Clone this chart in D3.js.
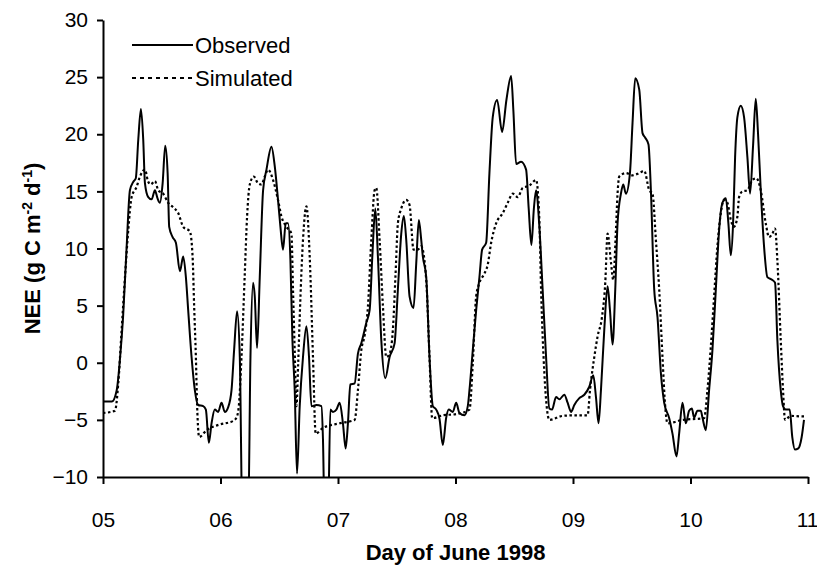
<!DOCTYPE html>
<html>
<head>
<meta charset="utf-8">
<script src="https://cdn.jsdelivr.net/npm/d3@7"></script>
<style>
  body { margin: 0; background: #fff; }
  .axis text { font-family: "Liberation Sans", Arial, sans-serif; font-size: 21px; fill: #000; }
  .axis path, .axis line { stroke: #000; stroke-width: 2; }
  .title { font-family: "Liberation Sans", Arial, sans-serif; font-weight: bold; font-size: 22px; }
  .legend text { font-family: "Liberation Sans", Arial, sans-serif; font-size: 22px; }
</style>
</head>
<body>
<div id="chart"></div>
<script>
// hours since 05 June 00:00
var obsHour = [0.0, 1.8, 2.8, 3.5, 4.1, 4.8, 5.5, 6.2, 6.7, 7.2, 7.75, 8.22, 8.57, 9.24, 9.93, 10.61, 11.12, 11.63, 12.18, 12.71,
  13.2, 13.52, 14.22, 14.89, 15.71, 16.38, 16.93, 17.4, 18.09, 18.76, 19.44, 20.46, 21.01, 21.62, 22.17, 22.84, 23.52, 24.21, 24.88, 25.56,
  26.25, 26.78, 27.39, 27.94, 28.49, 29.64, 30.12, 30.66, 31.0, 31.47, 32.02, 32.7, 33.39, 34.41, 35.08, 35.75, 36.24, 36.77, 37.32, 37.79,
  38.28, 38.69, 39.16, 39.63, 40.18, 40.85, 41.55, 42.08, 42.57, 43.59, 44.61, 44.93, 45.28, 45.95, 46.44, 46.97, 47.67, 48.34, 49.01, 49.56,
  50.03, 50.52, 51.4, 52.07, 52.76, 53.78, 54.46, 55.01, 55.62, 56.15, 56.84, 57.66, 58.54, 59.56, 60.23, 60.92, 61.45, 61.94, 62.62, 63.43,
  63.98, 64.51, 65.0, 65.33, 66.02, 66.69, 67.37, 68.06, 68.73, 69.41, 70.1, 70.63, 71.45, 72.14, 72.81, 73.83, 74.51, 74.85, 75.53, 76.22,
  76.89, 77.44, 78.26, 78.93, 79.61, 80.5, 81.52, 82.4, 83.36, 83.83, 84.38, 85.4, 86.42, 86.95, 87.5, 88.01, 88.46, 89.13, 89.8, 90.5,
  91.17, 91.72, 92.54, 93.21, 94.23, 94.9, 95.6, 96.27, 97.29, 98.31, 99.33, 100.14, 100.69, 101.22, 101.71, 102.39, 103.06, 103.55, 104.08, 104.63,
  105.1, 105.79, 106.26, 106.81, 107.63, 108.16, 108.71, 109.53, 110.2, 110.75, 111.42, 111.91, 112.59, 113.26, 113.95, 114.63, 115.65, 116.32, 117.14, 117.68,
  118.36, 119.05, 119.72, 120.27, 120.74, 121.42, 122.11, 122.44, 123.13, 123.8, 124.48, 125.17, 125.84, 126.52, 127.21, 127.74, 128.23, 128.7, 129.11, 129.58,
  130.27, 130.94, 131.62, 132.17, 132.78, 133.33, 133.8, 134.35, 135.02, 135.7, 136.72, 137.27, 137.74, 138.43, 138.9, 139.45, 140.26, 140.79, 141.34, 142.02,
  142.71, 143.18];
var obsNEE = [-3.4, -3.4, -2.4, 0.5, 4.0, 9.9, 15.1, 15.85, 16.15, 19.5, 22.2, 19.5, 15.7, 14.5, 14.3, 15.1, 14.4, 14.0, 15.7, 19.0,
  16.6, 11.9, 11.0, 10.5, 8.0, 9.3, 7.5, 4.6, 0.5, -2.4, -3.7, -3.8, -4.1, -7.0, -5.3, -4.1, -4.3, -3.5, -4.3, -3.9,
  -2.4, 1.1, 4.5, 0.5, -14, -14, 0.5, 7.0, 5.8, 1.3, 7.5, 15.1, 16.9, 18.9, 17.2, 14.25, 11.9, 9.9, 12.2, 12.2,
  9.0, 2.0, -2.4, -9.7, -3.8, 0.5, 3.2, 0.5, -3.8, -3.7, -3.8, -6.7, -14, -14, -4.1, -4.3, -4.1, -3.5, -5.3, -7.5,
  -5.3, -1.9, -1.8, 0.8, 1.7, 3.5, 4.6, 9.3, 13.5, 9.3, 2.0, -1.35, 0.5, 1.7, 6.4, 11.3, 12.85, 10.75, 5.8, 4.8,
  8.7, 12.5, 10.75, 9.3, 7.5, 0.5, -3.8, -4.1, -4.9, -7.2, -4.8, -4.1, -4.3, -3.5, -4.4, -4.6, -3.8, -2.4, 1.1, 4.6,
  7.5, 9.9, 10.5, 16.6, 21.5, 23.0, 20.2, 23.0, 25.1, 22.0, 17.4, 17.6, 16.9, 13.5, 10.3, 13.5, 15.1, 11.9, 6.4, 0.5,
  -4.0, -4.1, -3.0, -3.2, -2.8, -3.5, -4.3, -3.7, -3.1, -2.8, -2.1, -1.1, -3.0, -5.3, -2.4, 2.9, 6.7, 4.6, 1.6, 6.4,
  12.2, 14.8, 15.6, 14.8, 16.6, 21.0, 24.9, 23.9, 20.1, 19.7, 19.1, 15.1, 6.4, 4.0, -0.9, -3.5, -4.85, -6.2, -8.2, -6.2,
  -3.5, -5.3, -4.2, -4.0, -4.8, -4.2, -4.2, -4.8, -5.9, -2.4, 1.1, 6.4, 11.6, 14.0, 14.4, 12.2, 9.4, 12.2, 18.0, 21.5,
  22.5, 21.5, 18.0, 14.8, 19.0, 23.1, 20.0, 15.1, 10.2, 7.5, 7.25, 7.0, 2.0, -2.4, -3.8, -4.1, -4.1, -6.5, -7.6, -7.5,
  -6.5, -5.0];

var simHour = [0.0, 2.45, 3.12, 3.81, 4.49, 5.16, 5.85, 6.87, 7.55, 8.57, 9.18, 9.73, 10.61, 11.28, 12.3, 13.32, 14.34, 15.36, 16.38, 17.74,
  18.3, 18.62, 18.97, 19.23, 19.64, 21.15, 23.86, 26.58, 27.27, 27.74, 28.29, 28.96, 29.43, 29.98, 30.8, 31.67, 32.37, 33.04, 33.72, 34.73,
  35.75, 36.45, 37.47, 38.49, 38.81, 39.16, 39.51, 39.87, 40.18, 40.85, 41.55, 42.22, 42.89, 43.44, 44.93, 48.34, 51.4, 52.07, 52.76, 53.44,
  54.11, 54.8, 55.48, 55.82, 56.5, 57.17, 57.86, 58.54, 59.21, 59.76, 60.23, 60.92, 61.94, 62.62, 63.43, 64.31, 65.0, 66.02, 66.69, 67.24,
  69.41, 72.14, 74.85, 75.53, 76.22, 76.89, 77.91, 78.59, 79.28, 80.3, 81.65, 82.67, 83.69, 84.71, 85.73, 87.09, 88.46, 89.13, 89.48, 90.15,
  90.62, 91.17, 93.88, 96.27, 98.98, 99.47, 100.35, 101.02, 101.92, 102.59, 103.06, 103.75, 104.22, 104.77, 105.1, 105.45, 106.81, 108.16, 109.53, 110.55,
  111.57, 112.24, 112.93, 113.61, 114.28, 114.83, 115.3, 118.36, 122.78, 123.46, 124.15, 124.82, 125.5, 126.19, 126.86, 127.54, 128.23, 128.9, 129.58, 129.92,
  130.6, 131.62, 132.64, 133.45, 134.35, 135.37, 136.04, 136.72, 137.27, 137.74, 138.43, 138.9, 139.31, 140.47, 142.83, 143.39];
var simNEE = [-4.4, -4.2, -1.8, 2.9, 7.5, 11.6, 14.5, 15.4, 16.3, 16.9, 15.9, 15.6, 15.9, 15.1, 14.8, 14.0, 13.6, 13.1, 11.9, 11.5,
  9.3, 4.9, 0.5, -3.8, -6.5, -5.9, -5.4, -5.1, -4.8, -3.8, 0.5, 7.8, 12.8, 15.6, 16.3, 15.7, 15.6, 16.3, 16.9, 16.0,
  14.25, 12.8, 11.9, 11.3, 6.4, 1.0, -3.8, 0.0, 4.0, 10.75, 13.7, 9.3, 0.5, -6.2, -5.7, -5.3, -5.0, -2.4, 1.1, 2.4,
  4.9, 10.75, 15.1, 15.3, 10.75, 5.0, 0.5, 0.8, 2.9, 7.8, 12.2, 13.5, 14.25, 13.8, 9.9, 9.9, 10.2, 7.25, 0.5, -4.85,
  -4.6, -4.5, -4.1, -0.05, 5.8, 7.0, 7.8, 8.6, 10.5, 12.2, 13.1, 14.0, 14.8, 14.5, 15.3, 15.5, 16.0, 12.5, 6.4, -0.9,
  -3.8, -5.0, -4.65, -4.6, -4.6, -2.4, 0.5, 2.3, 4.0, 7.0, 11.3, 8.8, 7.25, 11.6, 14.8, 16.3, 16.6, 16.4, 16.6, 16.8,
  15.1, 14.8, 10.75, 6.4, 0.5, -3.8, -5.3, -5.0, -4.85, -2.4, 1.4, 5.8, 10.2, 13.1, 14.25, 14.0, 12.5, 11.9, 12.8, 14.5,
  15.0, 15.1, 16.0, 16.15, 15.1, 12.2, 11.0, 11.3, 11.75, 9.0, 2.0, -2.4, -5.0, -4.65, -4.7, -4.7];

var dayTicks = [0, 24, 48, 72, 96, 120, 144];
var dayLabels = ["05", "06", "07", "08", "09", "10", "11"];
var neeTicks = [-10, -5, 0, 5, 10, 15, 20, 25, 30];

var width = 817, height = 565;
var margin = {left: 103, right: 9, top: 20, bottom: 88};

var svg = d3.select("#chart").append("svg")
    .attr("width", width)
    .attr("height", height);

var x = d3.scaleLinear()
    .domain([0, 144])
    .range([margin.left, width - margin.right]);

var y = d3.scaleLinear()
    .domain([-10, 30])
    .range([height - margin.bottom, margin.top]);

svg.append("clipPath")
    .attr("id", "plot")
  .append("rect")
    .attr("x", x(0))
    .attr("y", y(30))
    .attr("width", x(144) - x(0))
    .attr("height", y(-10) - y(30));

var line = d3.line()
    .curve(d3.curveMonotoneX)
    .x(function(d) { return x(d[0]); })
    .y(function(d) { return y(d[1]); });

var obs = obsHour.map(function(h, i) { return [h, obsNEE[i]]; });
var sim = simHour.map(function(h, i) { return [h, simNEE[i]]; });

svg.append("path")
    .datum(sim)
    .attr("clip-path", "url(#plot)")
    .attr("fill", "none")
    .attr("stroke", "#000")
    .attr("stroke-width", 2.2)
    .attr("stroke-dasharray", "2.5,2.5")
    .attr("d", line);

svg.append("path")
    .datum(obs)
    .attr("clip-path", "url(#plot)")
    .attr("fill", "none")
    .attr("stroke", "#000")
    .attr("stroke-width", 2)
    .attr("stroke-linejoin", "round")
    .attr("d", line);

var yAxis = svg.append("g")
    .attr("class", "axis")
    .attr("transform", "translate(" + margin.left + ",0)")
    .call(d3.axisLeft(y).tickValues(neeTicks).tickSize(6).tickSizeOuter(0).tickPadding(9));

var xAxis = svg.append("g")
    .attr("class", "axis")
    .attr("transform", "translate(0," + y(-10) + ")")
    .call(d3.axisBottom(x).tickValues(dayTicks).tickSize(7).tickSizeOuter(0).tickPadding(28)
      .tickFormat(function(d, i) { return dayLabels[i]; }));

// keep the last label inside the page
xAxis.selectAll(".tick text")
    .filter(function(d) { return d === 144; })
    .attr("text-anchor", "end")
    .attr("dx", 10);

svg.append("text")
    .attr("class", "title")
    .attr("x", (x(0) + x(144)) / 2)
    .attr("y", 560)
    .attr("text-anchor", "middle")
    .text("Day of June 1998");

var ylab = svg.append("text")
    .attr("class", "title")
    .attr("transform", "translate(40," + ((y(-10) + y(30)) / 2) + ") rotate(-90)")
    .attr("text-anchor", "middle");
ylab.append("tspan").text("NEE (g C m");
ylab.append("tspan").attr("dy", -8).style("font-size", "14px").text("-2");
ylab.append("tspan").attr("dy", 8).text(" d");
ylab.append("tspan").attr("dy", -8).style("font-size", "14px").text("-1");
ylab.append("tspan").attr("dy", 8).text(")");

var legend = svg.append("g").attr("class", "legend");
var legendRows = [{name: "Observed", dash: null}, {name: "Simulated", dash: "4,4"}];
legendRows.forEach(function(r, i) {
  var ly = 45 + i * 33;
  legend.append("line")
      .attr("x1", 132).attr("x2", 193)
      .attr("y1", ly).attr("y2", ly)
      .attr("stroke", "#000")
      .attr("stroke-width", 2)
      .attr("stroke-dasharray", r.dash);
  legend.append("text")
      .attr("x", 195)
      .attr("y", ly + 8)
      .text(r.name);
});
</script>
</body>
</html>
